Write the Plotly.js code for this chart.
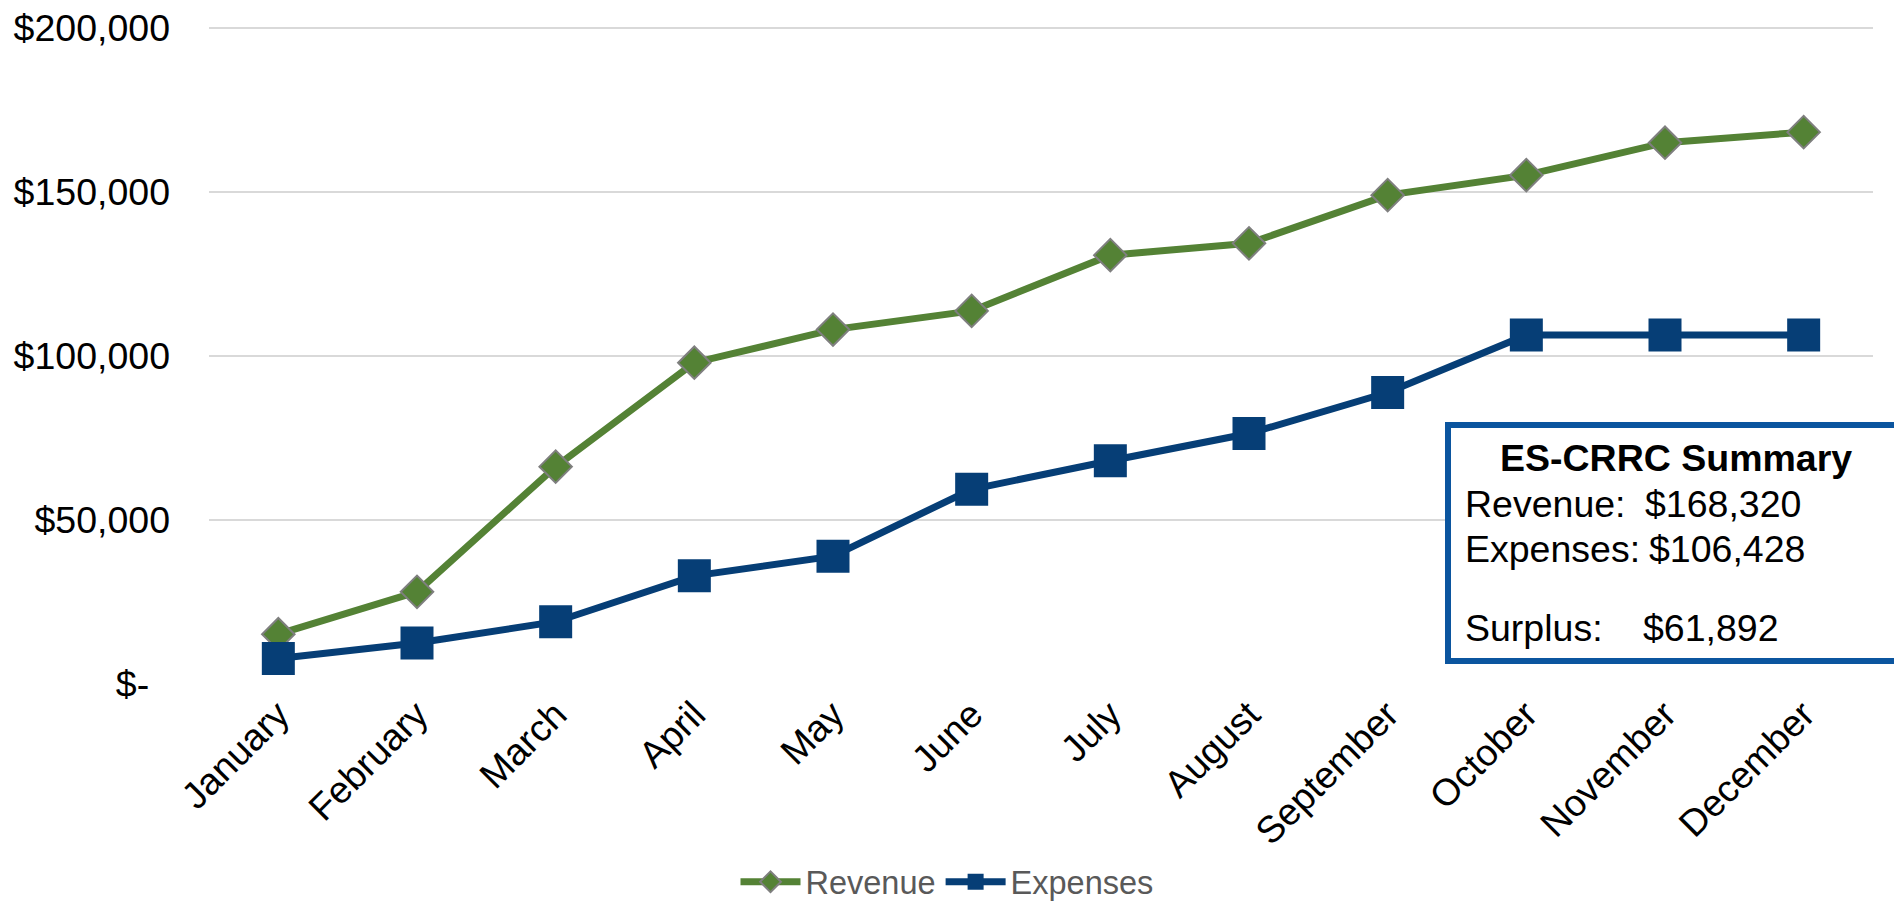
<!DOCTYPE html>
<html>
<head>
<meta charset="utf-8">
<script src="https://cdn.plot.ly/plotly-3.0.1.min.js"></script>
<style>
  html, body { margin: 0; padding: 0; background: #fff; }
  #chart { width: 1894px; height: 901px; }
</style>
</head>
<body>
<div id="chart"></div>
<script>
const months = ["January", "February", "March", "April", "May", "June", "July", "August", "September", "October", "November", "December"];
const revenue = [15200, 28100, 66300, 98000, 108100, 113800, 130800, 134400, 149100, 155200, 165100, 168320];
const expenses = [7800, 12500, 19000, 33000, 39000, 59400, 68100, 76400, 88900, 106428, 106428, 106428];
const yTickVals = [0, 50000, 100000, 150000, 200000];
const yTickText = ["$-\u00a0\u00a0", "$50,000", "$100,000", "$150,000", "$200,000"];
const summaryTitle = "ES-CRRC Summary";
const summaryLabels = ["Revenue:", "Expenses:", "Surplus:"];
const summaryValues = ["$168,320", "$106,428", "$61,892"];

const FONT = "Liberation Sans, Arial, Helvetica, sans-serif";
const GREEN = "#548235";
const NAVY = "#063e76";

const traces = [
  {
    x: months, y: revenue, name: "Revenue", type: "scatter", mode: "lines+markers",
    line: { color: GREEN, width: 7 },
    marker: { symbol: "diamond", size: 25, color: GREEN, line: { color: "#7f7f7f", width: 2 } }
  },
  {
    x: months, y: expenses, name: "Expenses", type: "scatter", mode: "lines+markers",
    line: { color: NAVY, width: 7 },
    marker: { symbol: "square", size: 33, color: NAVY, line: { color: NAVY, width: 0 } }
  }
];

// plot area: 0 at y=684px, 200000 at y=28px; range top extended slightly so the top gridline shows
const YMAX = 201000;
const L = 209, R = 1873, B = 684;
const T = B - 656 * YMAX / 200000;
const px = v => (v - L) / (R - L);
const py = v => (B - v) / (B - T);

const annFont = { family: FONT, size: 37.5, color: "#000" };
const annotations = [
  { xref: "paper", yref: "paper", x: px(1676), y: py(458), xanchor: "center", yanchor: "middle",
    text: "<b>" + summaryTitle + "</b>", showarrow: false, font: annFont }
];
const rowY = [504, 549, 628];
const valX = [1643, 1647, 1641];
summaryLabels.forEach((lab, i) => {
  annotations.push({ xref: "paper", yref: "paper", x: px(1463), y: py(rowY[i]), xanchor: "left", yanchor: "middle",
    text: lab, showarrow: false, font: annFont });
  annotations.push({ xref: "paper", yref: "paper", x: px(valX[i]), y: py(rowY[i]), xanchor: "left", yanchor: "middle",
    text: summaryValues[i], showarrow: false, font: annFont });
});

const layout = {
  width: 1894, height: 901,
  margin: { l: L, r: 1894 - R, t: T, b: 901 - B },
  paper_bgcolor: "#fff", plot_bgcolor: "#fff",
  font: { family: FONT, color: "#000" },
  showlegend: true,
  legend: {
    orientation: "h", xref: "container", yref: "container",
    x: 0.5, xanchor: "center", y: 0.021, yanchor: "middle",
    font: { family: "Liberation Sans Narrow, Arial Narrow, " + FONT, size: 32.5, color: "#595959" },
    itemwidth: 60, traceorder: "normal"
  },
  xaxis: {
    type: "category", tickangle: -45, showgrid: false, zeroline: false, showline: false,
    ticks: "", tickfont: { family: FONT, size: 37.5, color: "#000" }, fixedrange: true,
    range: [-0.5, 11.5]
  },
  yaxis: {
    range: [0, YMAX], tickvals: yTickVals, ticktext: yTickText,
    showgrid: true, gridcolor: "#d9d9d9", gridwidth: 2, zeroline: false, showline: false,
    ticks: "", tickfont: { family: FONT, size: 37.5, color: "#000" }, ticklabelstandoff: 38,
    fixedrange: true
  },
  shapes: [
    { type: "rect", xref: "paper", yref: "paper", x0: px(1448), x1: px(1905), y0: py(661), y1: py(425),
      line: { color: "#0b559f", width: 6 }, fillcolor: "#fff", layer: "above" }
  ],
  annotations: annotations
};

Plotly.newPlot("chart", traces, layout, { displayModeBar: false, staticPlot: true });
</script>
</body>
</html>
